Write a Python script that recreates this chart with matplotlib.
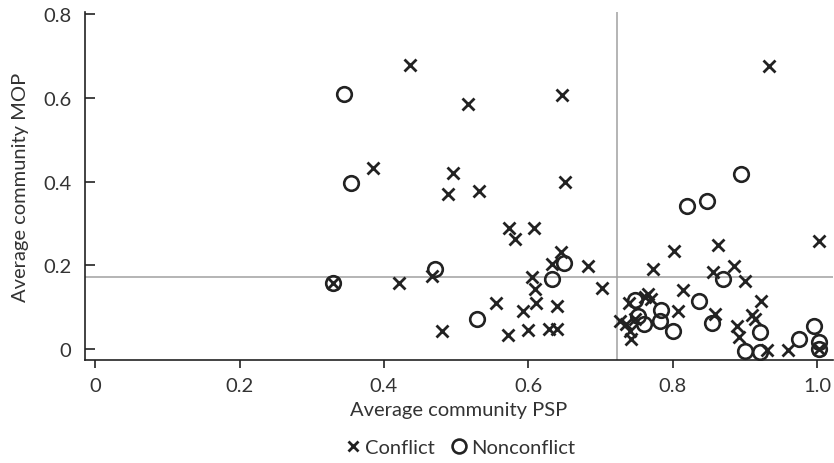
import matplotlib
matplotlib.use("Agg")
import matplotlib.pyplot as plt

# community averages, conflict communities
conflict_psp = [0.436, 0.933, 0.517, 0.647, 0.385, 0.495, 0.489, 0.531, 0.650, 0.573,
                0.608, 0.582, 0.645, 0.633, 0.682, 0.605, 0.330, 0.421, 0.467, 0.702,
                0.609, 0.555, 0.610, 0.593, 0.640, 0.480, 0.572, 0.599, 0.629, 0.639,
                0.801, 0.773, 0.863, 1.002, 0.884, 0.855, 0.900, 0.814, 0.807, 0.922,
                0.859, 0.909, 0.914, 0.889, 0.892, 0.931, 0.960, 1.002,
                0.766, 0.770, 0.739, 0.727, 0.735, 0.747, 0.741, 0.742, 0.762]
conflict_mop = [0.678, 0.677, 0.585, 0.607, 0.432, 0.420, 0.370, 0.377, 0.400, 0.288,
                0.289, 0.264, 0.233, 0.203, 0.199, 0.173, 0.158, 0.158, 0.175, 0.146,
                0.143, 0.110, 0.110, 0.090, 0.102, 0.044, 0.034, 0.045, 0.049, 0.049,
                0.235, 0.191, 0.249, 0.259, 0.199, 0.185, 0.162, 0.142, 0.092, 0.115,
                0.084, 0.081, 0.072, 0.056, 0.028, -0.002, -0.002, 0.000,
                0.131, 0.119, 0.110, 0.066, 0.060, 0.072, 0.044, 0.025, 0.125]

# community averages, nonconflict communities
nonconflict_psp = [0.344, 0.354, 0.894, 0.819, 0.847, 0.330, 0.470, 0.649, 0.633, 0.529,
                   0.869, 0.836, 0.747, 0.783, 0.752, 0.760, 0.782, 0.800, 0.854, 0.920,
                   0.900, 0.921, 0.975, 0.995, 1.002, 1.002]
nonconflict_mop = [0.609, 0.396, 0.418, 0.341, 0.354, 0.158, 0.191, 0.205, 0.167, 0.072,
                   0.167, 0.115, 0.117, 0.094, 0.080, 0.060, 0.068, 0.044, 0.062, 0.042,
                   -0.004, -0.006, 0.024, 0.055, 0.016, 0.000]

psp_mean = 0.723
mop_mean = 0.172

x_ticks = [0, 0.2, 0.4, 0.6, 0.8, 1.0]
x_tick_labels = ["0", "0.2", "0.4", "0.6", "0.8", "1.0"]
y_ticks = [0, 0.2, 0.4, 0.6, 0.8]
y_tick_labels = ["0", "0.2", "0.4", "0.6", "0.8"]

plt.rcParams['font.family'] = ['Lato', 'DejaVu Sans']
text_color = '#333333'
fs = 14.5

fig = plt.figure(figsize=(8.34, 4.64), dpi=100)
ax = fig.add_axes([0.102, 0.222, 0.897, 0.750])

ax.axvline(psp_mean, color='#a0a0a0', lw=1.1, zorder=1)
ax.axhline(mop_mean, color='#a0a0a0', lw=1.1, zorder=1)

ax.plot(conflict_psp, conflict_mop, linestyle='none', marker='x', markersize=8,
        markeredgewidth=2.0, color='#222222', label='Conflict', zorder=3)
ax.plot(nonconflict_psp, nonconflict_mop, linestyle='none', marker='o', markersize=10.5,
        markeredgewidth=1.9, markerfacecolor='none', markeredgecolor='#222222',
        label='Nonconflict', zorder=3)

ax.set_xlim(-0.0139, 1.022)
ax.set_ylim(-0.026, 0.805)
ax.set_xticks(x_ticks)
ax.set_xticklabels(x_tick_labels)
ax.set_yticks(y_ticks)
ax.set_yticklabels(y_tick_labels)

for side in ['top', 'right']:
    ax.spines[side].set_visible(False)
for side in ['left', 'bottom']:
    ax.spines[side].set_linewidth(1.2)
    ax.spines[side].set_color('#222222')

ax.tick_params(axis='x', direction='out', length=6, width=1.2, colors='#222222',
               labelcolor=text_color, labelsize=fs, pad=6)
ax.tick_params(axis='y', direction='in', length=7, width=1.2, colors='#222222',
               labelcolor=text_color, labelsize=fs, pad=10)

ax.set_xlabel('Average community PSP', fontsize=fs, color=text_color, labelpad=5)
ax.set_ylabel('Average community MOP', fontsize=fs, color=text_color, labelpad=10)

# legend sits under the x label, centred on the axes
fig.legend(loc='lower center', bbox_to_anchor=(0.55, -0.025), ncol=2, frameon=False,
           fontsize=fs, labelcolor=text_color, handletextpad=0.1, columnspacing=0.7,
           handlelength=1.0, markerscale=0.95)

fig.savefig('out.png', dpi=100)
